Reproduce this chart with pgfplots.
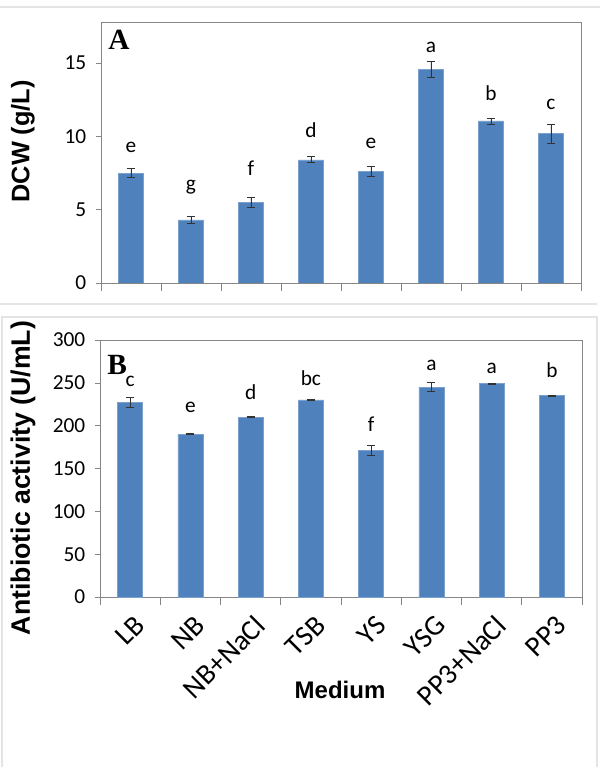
\documentclass[border=0pt]{standalone}
\usepackage{fontspec}
\setmainfont{Carlito}
\newfontfamily\arialfont{Liberation Sans}
\newfontfamily\timesfont{Liberation Serif}
\usepackage{pgfplots}
\usepackage{pgfplotstable}
\pgfplotsset{compat=1.18}
\definecolor{barblue}{HTML}{4F81BD}
\definecolor{axgray}{HTML}{868686}
\definecolor{pangray}{HTML}{E4E4E4}

\pgfplotstableread{
x y err
1 7.5 0.30
2 4.3 0.25
3 5.5 0.35
4 8.4 0.20
5 7.6 0.35
6 14.55 0.55
7 11.05 0.20
8 10.2 0.65
}\dataA
\pgfplotstableread{
x y lab
1 8.93 e
2 6.34 g
3 7.36 f
4 9.89 d
5 9.20 e
6 15.75 a
7 12.48 b
8 11.86 c
}\labA
\pgfplotstableread{
x y err
1 227 6
2 190 0.6
3 210 0.6
4 230 0.6
5 171 6
6 245 5
7 249 0.6
8 235 0.6
}\dataB
\pgfplotstableread{
x y lab
1 246 c
2 215 e
3 231 d
4 247 bc
5 193 f
6 264 a
7 261 a
8 256 b
}\labB

\pgfplotsset{
  panel/.style={
    scale only axis,
    xmin=0.5, xmax=8.5,
    ymin=0,
    axis line style={axgray},
    every tick/.style={axgray, thin},
    tick align=outside,
    xtick={1,...,8},
    major x tick style={draw=none},
    minor xtick={0.5,1.5,...,8.5},
    minor tick length=6pt,
    major tick length=3.5pt,
    xtick pos=bottom,
    ytick pos=left,
    ticklabel style={font=\fontsize{16}{18}\selectfont},
    /pgf/number format/assume math mode=true,
    yticklabel style={xshift=-4pt},
  },
  bars/.style={
    ybar, bar width=18.75pt, fill=barblue, draw=barblue!75!white, bar shift=0pt,
    error bars/.cd, y dir=both, y explicit,
    error bar style={black!80, line width=0.6pt},
    error mark options={rotate=90, mark size=3pt, black!80, line width=0.6pt},
  },
  lets/.style={
    draw=none, mark=none, nodes near coords,
    point meta=explicit symbolic,
    nodes near coords style={anchor=base, font=\fontsize{16}{18}\selectfont, inner sep=0pt},
  },
}

\begin{document}
\begin{tikzpicture}
\path[use as bounding box] (0,0) rectangle (450pt,582pt);
% panel borders
\draw[pangray, line width=0.9pt] (0pt,576.75pt) -- (450pt,576.75pt);
\draw[pangray, line width=0.9pt] (0pt,354pt) -- (447.75pt,354pt);
\draw[pangray, line width=0.9pt] (1.5pt,6.75pt) -- (1.5pt,344.25pt) -- (447.75pt,344.25pt) -- (447.75pt,6.75pt);

% y labels and x label placed in picture coordinates
\node[rotate=90, font=\arialfont\bfseries\fontsize{19}{21}\selectfont]
  at (17.25pt,476pt) {DCW (g/L)};
\node[rotate=90, font=\arialfont\bfseries\fontsize{20}{22}\selectfont]
  at (17.25pt,223.5pt) {Antibiotic activity (U/mL)};
\node[font=\arialfont\bfseries\fontsize{18}{20}\selectfont]
  at (255pt,64.5pt) {Medium};

% Panel A
\begin{axis}[panel,
  at={(75.75pt,369.75pt)}, anchor=south west,
  width=360pt, height=195.75pt,
  ymax=17.8, ytick={0,5,10,15},
  xticklabels={},
]
\addplot[bars] table[x=x, y=y, y error=err] {\dataA};
\addplot[lets] table[x=x, y=y, meta=lab] {\labA};
\node[anchor=base west, font=\timesfont\bfseries\fontsize{22}{24}\selectfont, inner sep=0pt]
  at (axis description cs:0.015,0.895) {A};
\end{axis}

% Panel B
\begin{axis}[panel,
  at={(75pt,134.25pt)}, anchor=south west,
  width=361.5pt, height=192.75pt,
  ymax=300, ytick={0,50,...,300},
  xticklabels={LB,NB,NB+NaCl,TSB,YS,YSG,PP3+NaCl,PP3},
  xticklabel style={font=\fontsize{21.5}{23}\selectfont, rotate=45, anchor=east, inner sep=1pt, xshift=-3.7pt, yshift=-15.2pt},
]
\addplot[bars] table[x=x, y=y, y error=err] {\dataB};
\addplot[lets] table[x=x, y=y, meta=lab] {\labB};
\node[anchor=base west, font=\timesfont\bfseries\fontsize{22}{24}\selectfont, inner sep=0pt]
  at (axis description cs:0.015,0.865) {B};
\end{axis}
\end{tikzpicture}
\end{document}
